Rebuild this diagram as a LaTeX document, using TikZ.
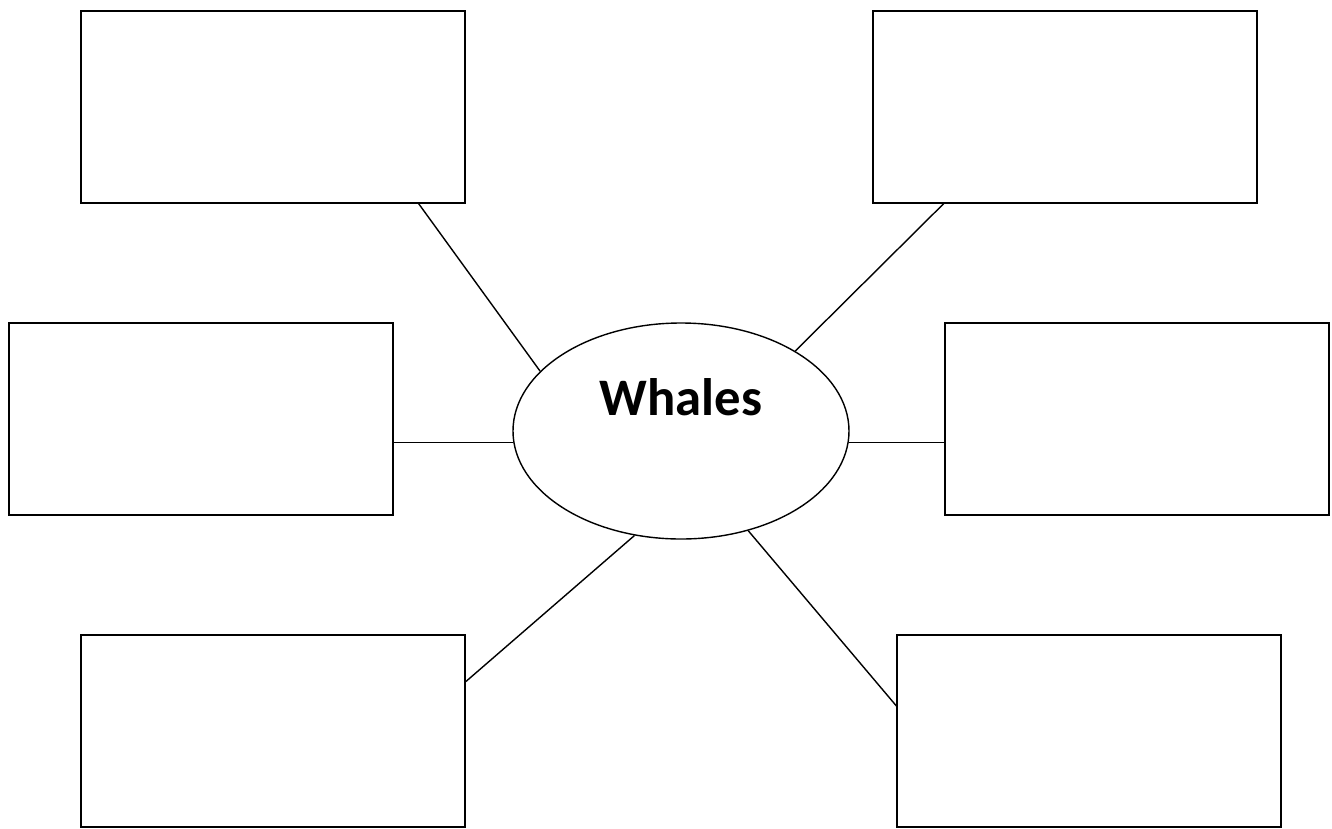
\documentclass[tikz,border=0pt]{standalone}
\usepackage{fontspec}
\setmainfont{Carlito}
\usetikzlibrary{
  shapes.geometric,
  calc
}

\begin{document}
\begin{tikzpicture}[
  every node/.style={font=\rmfamily},
  box/.style={draw, line width=0.8pt, minimum width=7.68cm, minimum height=3.84cm,
              inner sep=0pt},
  hub/.style={draw, ellipse, line width=0.8pt, minimum width=6.72cm, minimum height=4.32cm,
              inner sep=0pt},
  spoke/.style={line width=0.8pt}
]
\useasboundingbox (0,0) rectangle (26.64,-16.56);

% centre
\node[hub] (wh) at (13.62, -8.62) {};
\node[anchor=base, font=\fontsize{30}{36}\selectfont\bfseries] (whtext) at (13.62, -8.30) {Whales};

% boxes
\node[box] (tl) at (5.46, -2.14) {};
\node[box] (tr) at (21.30, -2.14) {};
\node[box] (ml) at (4.02, -8.38) {};
\node[box] (mr) at (22.74, -8.38) {};
\node[box] (bl) at (5.46, -14.62) {};
\node[box] (br) at (21.78, -14.62) {};

% spokes
\draw[spoke] ($(tl.south west)!0.878!(tl.south east)$) -- (wh.157);
\draw[spoke] ($(tr.south west)!0.185!(tr.south east)$) -- (wh.35);
\draw[spoke] (wh.184) -- (wh.184 -| ml.east);
\draw[spoke] (wh.-4) -- (wh.-4 -| mr.west);
\draw[spoke] ($(bl.north east)!0.245!(bl.south east)$) -- (wh.246);
\draw[spoke] ($(br.north west)!0.37!(br.south west)$) -- (wh.304);

\end{tikzpicture}
\end{document}
